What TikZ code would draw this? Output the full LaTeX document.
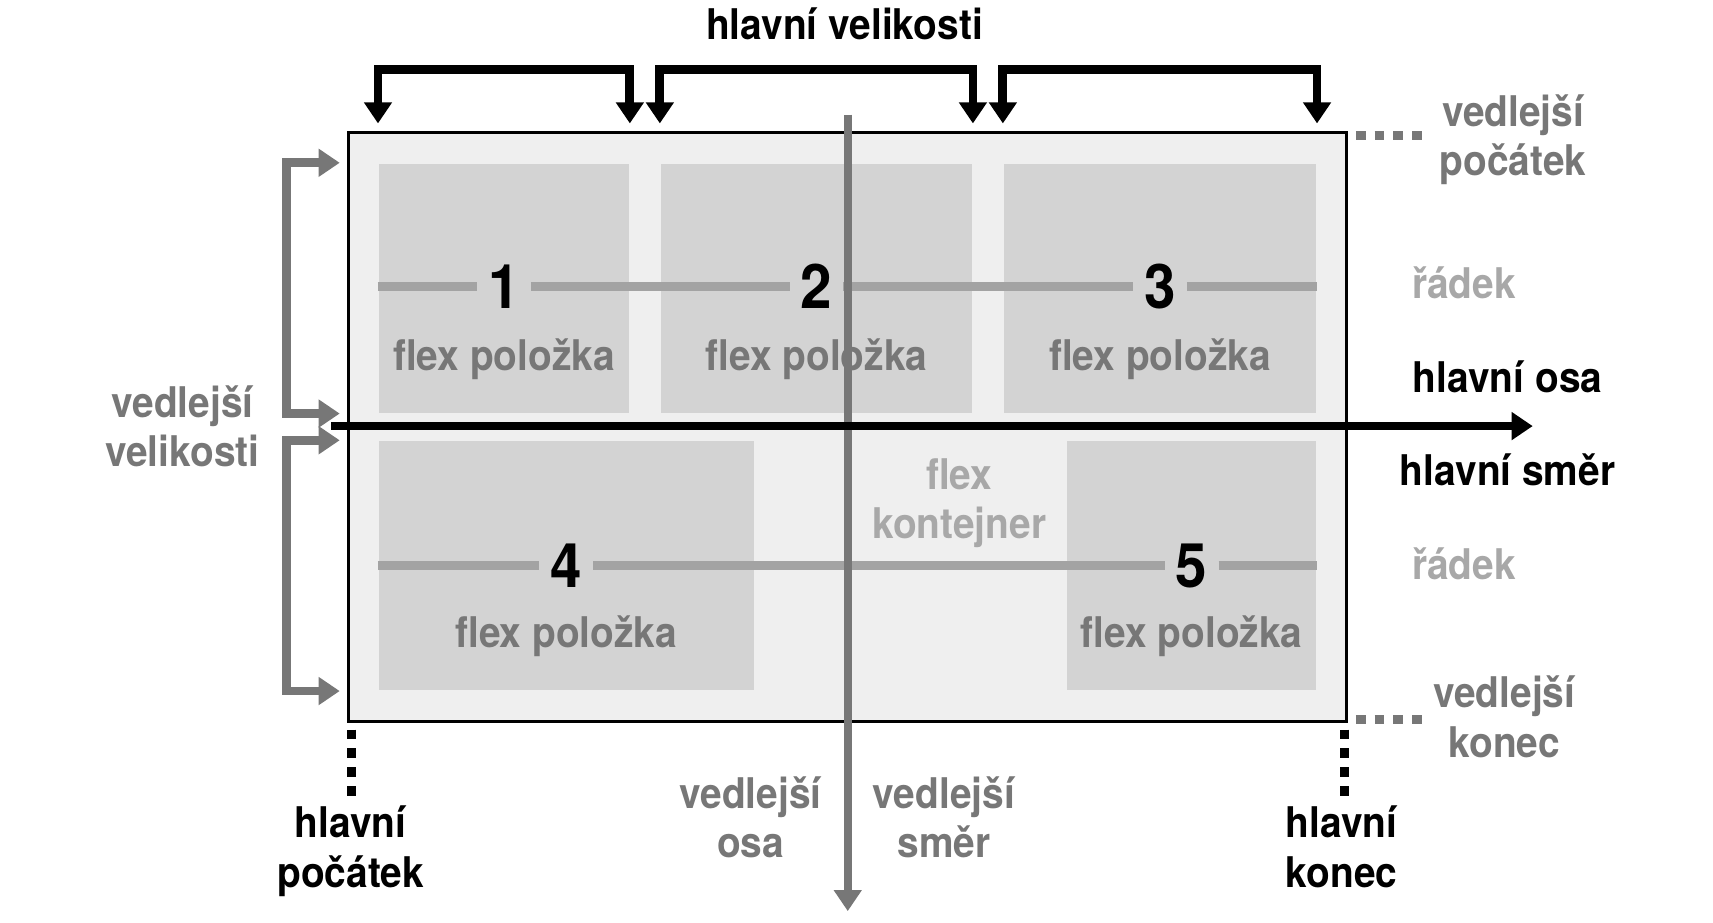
\documentclass[tikz,border=0pt]{standalone}
\usepackage{fontspec}
\setmainfont{TeX Gyre Heros}[FakeStretch = 0.92]
\usetikzlibrary{arrows.meta,positioning}

\definecolor{boxfill}{HTML}{EFEFEF}
\definecolor{itemfill}{HTML}{D3D3D3}
\definecolor{rowgray}{HTML}{A3A3A3}
\definecolor{axisgray}{HTML}{777777}
\definecolor{palegray}{HTML}{A8A8A8}

\tikzset{
	bigtip/.tip = {Triangle[width = 7pt, length = 5.5pt]},
	item/.style = {fill = itemfill, inner sep = 0pt, anchor = north west,
				   minimum height = 2.28cm},
	num/.style = {font = \fontsize{16}{18}\selectfont\bfseries,
				  inner xsep = 2.7pt, inner ysep = 0pt},
	itemtext/.style = {text = axisgray, anchor = base},
	caption/.style = {align = center, anchor = base},
	bracket/.style = {line width = 2.3pt, bigtip-bigtip},
	axis/.style = {line width = 2.3pt, -bigtip},
	rowline/.style = {rowgray, line width = 2.3pt},
	dots/.style = {line width = 2.3pt, dash pattern = on 2.55pt off 2.35pt}
}

\begin{document}
\begin{tikzpicture}[x = 0.01cm, y = -0.01cm,
	every node/.style = {font = \fontsize{11}{12.8}\selectfont\bfseries}]

	\useasboundingbox (0,0) rectangle (1568,844);

	% flex kontejner
	\draw (318,120) node[draw = black,
						 line width = 0.7pt,
						 fill = boxfill,
						 inner sep = 0pt,
						 anchor = north west,
						 minimum width = 9.13cm,
						 minimum height = 5.39cm] (box) {};

	% polozky
	\draw (346,149) node[item, minimum width = 2.29cm] (i1) {};
	\draw (604,149) node[item, minimum width = 2.85cm] (i2) {};
	\draw (918,149) node[item, minimum width = 2.86cm] (i3) {};
	\draw (346,403) node[item, minimum width = 3.43cm] (i4) {};
	\draw (976,403) node[item, minimum width = 2.28cm] (i5) {};

	\foreach \i in {1,...,5}
		\node[itemtext] (t\i) at ([yshift = -0.75cm]i\i.center) {flex položka};

	\draw (878,493) node[caption, text = palegray] (cont) {flex\\kontejner};

	% radky
	\node[num] (n1) at ([yshift = 0.015cm]i1.center) {1};
	\node[num] (n2) at ([yshift = 0.015cm]i2.center) {2};
	\node[num] (n3) at ([yshift = 0.015cm]i3.center) {3};
	\node[num] (n4) at (i4.center) {4};
	\node[num] (n5) at (i5.center) {5};

	\draw[rowline] (i1.west |- n1) -- (n1) -- (n2) -- (n3) -- (i3.east |- n3);
	\draw[rowline] (i4.west |- n4) -- (n4) -- (n5) -- (i5.east |- n5);

	\draw (1340,273) node[caption, text = palegray] (row1) {řádek};
	\draw (1340,530) node[caption, text = palegray] (row2) {řádek};

	% vedlejsi osa
	\coordinate (cstart) at (776,105);
	\coordinate (cend) at (776,834);
	\draw[axis, axisgray, line width = 2.1pt] (cstart) -- (cend);

	% hlavni osa
	\coordinate (mstart) at (303,390);
	\coordinate (mend) at (1403,390);
	\draw[axis] (mstart) -- (mend);

	\draw (1380,359) node[caption] (mainaxis) {hlavní osa};
	\draw (1380,444) node[caption] (maindir) {hlavní směr};

	% hlavni velikosti
	\foreach \i in {1,2,3}
		\draw[bracket] ([yshift = 0.36cm]i\i.north west)
			|- ([yshift = 0.85cm]i\i.north east) -- ([yshift = 0.36cm]i\i.north east);
	\draw (773,36) node[caption] (mainsize) {hlavní velikosti};

	% vedlejsi velikosti
	\foreach \i in {1,4}
		\draw[bracket, axisgray] ([xshift = -0.35cm]i\i.north west)
			-| ([xshift = -0.84cm]i\i.south west) -- ([xshift = -0.35cm]i\i.south west);
	\draw (167,427) node[caption, text = axisgray] (crosssize) {vedlejší\\velikosti};

	% pocatky a konce
	\draw[dots, axisgray] ([shift = {(7,4)}]box.north east) -- ++(62,0);
	\draw[dots, axisgray] ([shift = {(7,-3)}]box.south east) -- ++(62,0);
	\draw[dots] ([shift = {(4,6)}]box.south west) -- ++(0,62);
	\draw[dots] ([shift = {(-3,6)}]box.south east) -- ++(0,62);

	\draw (1385,161) node[caption, text = axisgray] (crossstart) {vedlejší\\počátek};
	\draw (1377,693) node[caption, text = axisgray] (crossend) {vedlejší\\konec};
	\draw (321,812) node[caption] (mainstart) {hlavní\\počátek};
	\draw (1228,812) node[caption] (mainend) {hlavní\\konec};
	\draw (687,785) node[caption, text = axisgray] (crossaxis) {vedlejší\\osa};
	\draw (864,785) node[caption, text = axisgray] (crossdir) {vedlejší\\směr};

\end{tikzpicture}
\end{document}
